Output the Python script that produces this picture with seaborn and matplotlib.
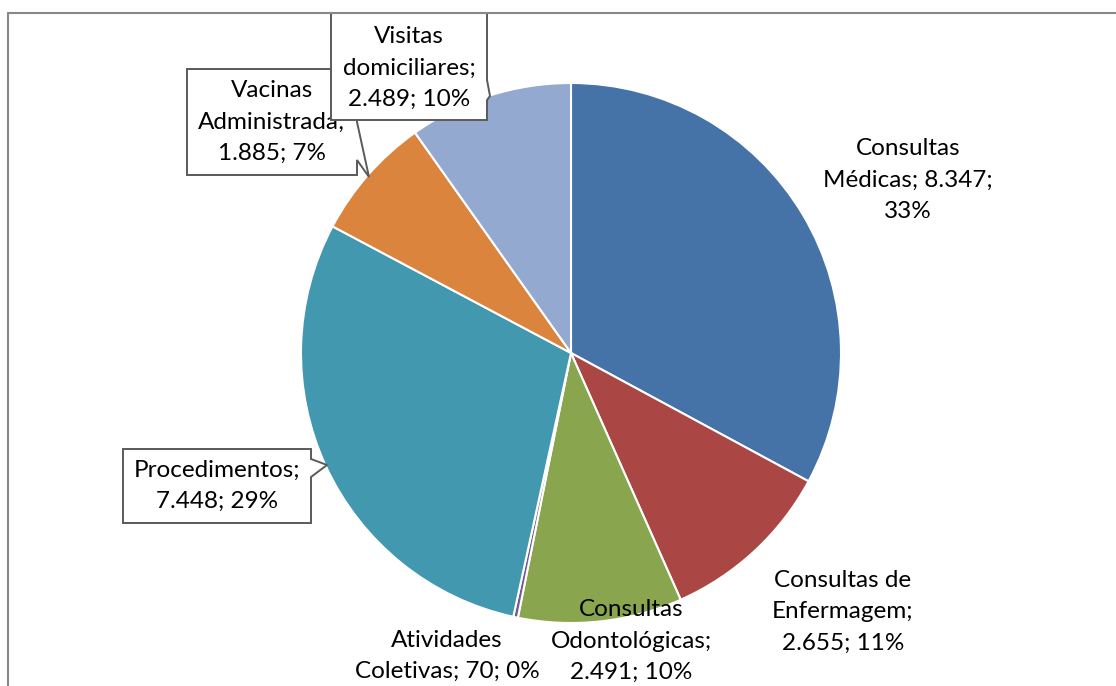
import numpy as np
import pandas as pd
import matplotlib
matplotlib.use("Agg")
import matplotlib.pyplot as plt
import seaborn as sns
from matplotlib.patches import Polygon
from matplotlib.lines import Line2D

# data
categories = ["Consultas Médicas", "Consultas de Enfermagem", "Consultas Odontológicas",
              "Atividades Coletivas", "Procedimentos", "Vacinas Administrada",
              "Visitas domiciliares"]
values = [8347, 2655, 2491, 70, 7448, 1885, 2489]
colors = ["#4572A7", "#AA4643", "#89A54E", "#71588F", "#4198AF", "#DB843D", "#93A9CF"]

# how each label is broken into lines (as in the original)
templates = [
    "Consultas\nMédicas; {v};\n{p}",
    "Consultas de\nEnfermagem;\n{v}; {p}",
    "Consultas\nOdontológicas;\n{v}; {p}",
    "Atividades\nColetivas; {v}; {p}",
    "Procedimentos;\n{v}; {p}",
    "Vacinas\nAdministrada;\n{v}; {p}",
    "Visitas\ndomiciliares;\n{v}; {p}",
]

df = pd.DataFrame({"categoria": categories, "valor": values})

# percentages that add up to 100 (largest remainder, like Excel)
raw = df["valor"] / df["valor"].sum() * 100
pct = np.floor(raw).astype(int)
rest = 100 - pct.sum()
order = np.argsort(-(raw - np.floor(raw)).values)
pct.iloc[order[:rest]] += 1
df["pct"] = pct

sns.set_theme(style="white")
plt.rcParams["font.family"] = ["Lato", "DejaVu Sans"]

W, H = 1116, 686
fig = plt.figure(figsize=(W / 100, H / 100), dpi=100)
fig.patch.set_facecolor("white")

# pie centre and radius in pixels
cx, cy, r = 571, 353, 270
ax = fig.add_axes([(cx - r) / W, (H - cy - r) / H, 2 * r / W, 2 * r / H])
ax.pie(df["valor"], colors=colors, startangle=90, counterclock=False,
       wedgeprops=dict(edgecolor="white", linewidth=1.5))
ax.set_xlim(-1, 1)
ax.set_ylim(-1, 1)
ax.set_aspect("equal")
ax.axis("off")


def px(x, y):
    return ((x - cx) / r, (cy - y) / r)


# label centres (pixels)
label_pos = [(908, 180), (843, 612), (631, 641), (447, 656), (217, 486), (272, 122), (409, 68)]

# callout boxes: polygon outline in pixels
callouts = {
    5: [(187, 69), (357, 69), (357, 122), (369, 177), (357, 160), (357, 175), (187, 175)],
    6: [(331, 13), (487, 13), (487, 80), (490, 96), (487, 100), (487, 120), (331, 120)],
    4: [(123, 449), (311, 449), (311, 459), (327, 465), (311, 477), (311, 523), (123, 523)],
}

for i, row in df.iterrows():
    v = f"{row['valor']:,}".replace(",", ".")
    txt = templates[i].format(v=v, p=f"{row['pct']}%")
    z = 5 + (2 if i == 6 else 0)
    if i in callouts:
        poly = Polygon([px(*p) for p in callouts[i]], closed=True, facecolor="white",
                       edgecolor="#5a5a5a", linewidth=1.4, clip_on=False, zorder=z)
        ax.add_patch(poly)
    x, y = px(*label_pos[i])
    ax.text(x, y, txt, ha="center", va="center", fontsize=17.5, linespacing=1.62,
            color="black", zorder=z + 1, clip_on=False)

# outer chart frame (only left and top edges are visible)
fx = 8 / W
fy = 1 - 13 / H
fig.add_artist(Line2D([fx, fx], [0, fy], color="#888888", lw=1.5))
fig.add_artist(Line2D([fx, 1], [fy, fy], color="#888888", lw=1.5))

fig.savefig("out.png", dpi=100)
